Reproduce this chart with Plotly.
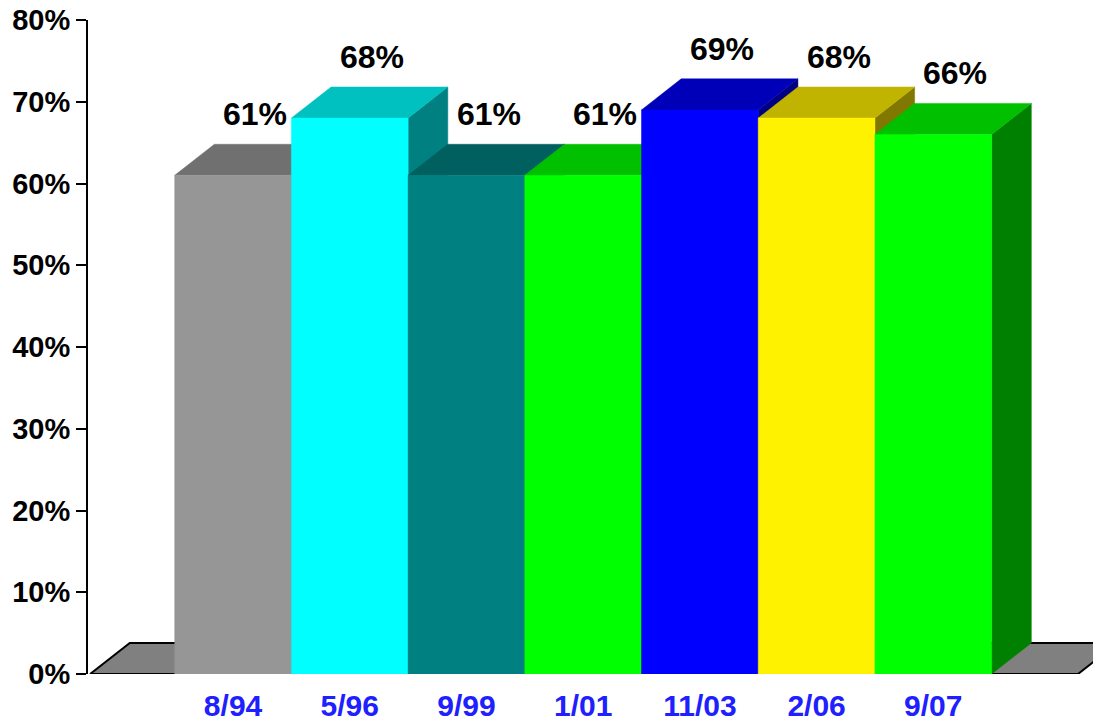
import plotly.graph_objects as go

categories = ["8/94", "5/96", "9/99", "1/01", "11/03", "2/06", "9/07"]
values = [61, 68, 61, 61, 69, 68, 66]
front_colors = ["#969696", "#00ffff", "#008080", "#00ff00", "#0000ff", "#fff200", "#00ff00"]
top_colors = ["#707070", "#00c0c0", "#005f5f", "#00c000", "#0000b8", "#c0b400", "#00c000"]
side_colors = ["#4b4b4b", "#008080", "#004040", "#008000", "#000080", "#807800", "#008000"]
y_ticks = [0, 10, 20, 30, 40, 50, 60, 70, 80]
y_tick_labels = [f"{t}%" for t in y_ticks]

# 3D depth offsets (in data units)
DX = 0.34
DY = 3.8
HALF = 0.5

FONT = "Arial, Liberation Sans, sans-serif"

fig = go.Figure()


def poly(xs, ys, color, line_color=None, line_width=0):
    fig.add_trace(go.Scatter(
        x=xs + [xs[0]], y=ys + [ys[0]],
        mode="lines", fill="toself", fillcolor=color,
        line=dict(color=line_color or color, width=line_width if line_width else 0.5),
        hoverinfo="skip", showlegend=False,
    ))


n = len(categories)
# floor
fl, fr = -1.225, n - 1 + 1.24
poly([fl, fr, fr + DX, fl + DX], [0, 0, DY, DY], "#808080", "black", 2)

# bars, drawn left to right
for i, v in enumerate(values):
    x0, x1 = i - HALF, i + HALF
    # side face
    poly([x1, x1 + DX, x1 + DX, x1], [0, DY, v + DY, v], side_colors[i])
    # top face
    poly([x0, x1, x1 + DX, x0 + DX], [v, v, v + DY, v + DY], top_colors[i])
    # front face
    poly([x0, x1, x1, x0], [0, 0, v, v], front_colors[i])

for i, v in enumerate(values):
    fig.add_annotation(
        x=i + 0.19, y=v + DY, text=f"{v}%", showarrow=False,
        xanchor="center", yanchor="bottom", yshift=10,
        font=dict(family=FONT, size=32, color="black", weight="bold"),
    )

# page body has an 8px margin; compensate so the plot lands where intended
fig.update_layout(
    width=1101, height=721,
    margin=dict(l=80, r=8, t=12, b=55, autoexpand=False),
    paper_bgcolor="white", plot_bgcolor="white",
    showlegend=False,
    xaxis=dict(
        range=[-1.243, 7.437], automargin=False,
        tickmode="array", tickvals=list(range(n)), ticktext=categories,
        showline=False, showgrid=False, zeroline=False, ticks="",
        ticklabelstandoff=11, ticklabeloverflow="allow",
        tickfont=dict(family=FONT, size=30, color="#2020ff", weight="bold"),
        fixedrange=True,
    ),
    yaxis=dict(
        range=[0, 80], automargin=False,
        tickmode="array", tickvals=y_ticks, ticktext=y_tick_labels,
        showline=True, linecolor="black", linewidth=2,
        ticks="outside", ticklen=10, tickwidth=2, tickcolor="black",
        showgrid=False, zeroline=False, ticklabeloverflow="allow",
        tickfont=dict(family=FONT, size=29, color="black", weight="bold"),
        fixedrange=True,
    ),
)

fig.write_html("out.html")
